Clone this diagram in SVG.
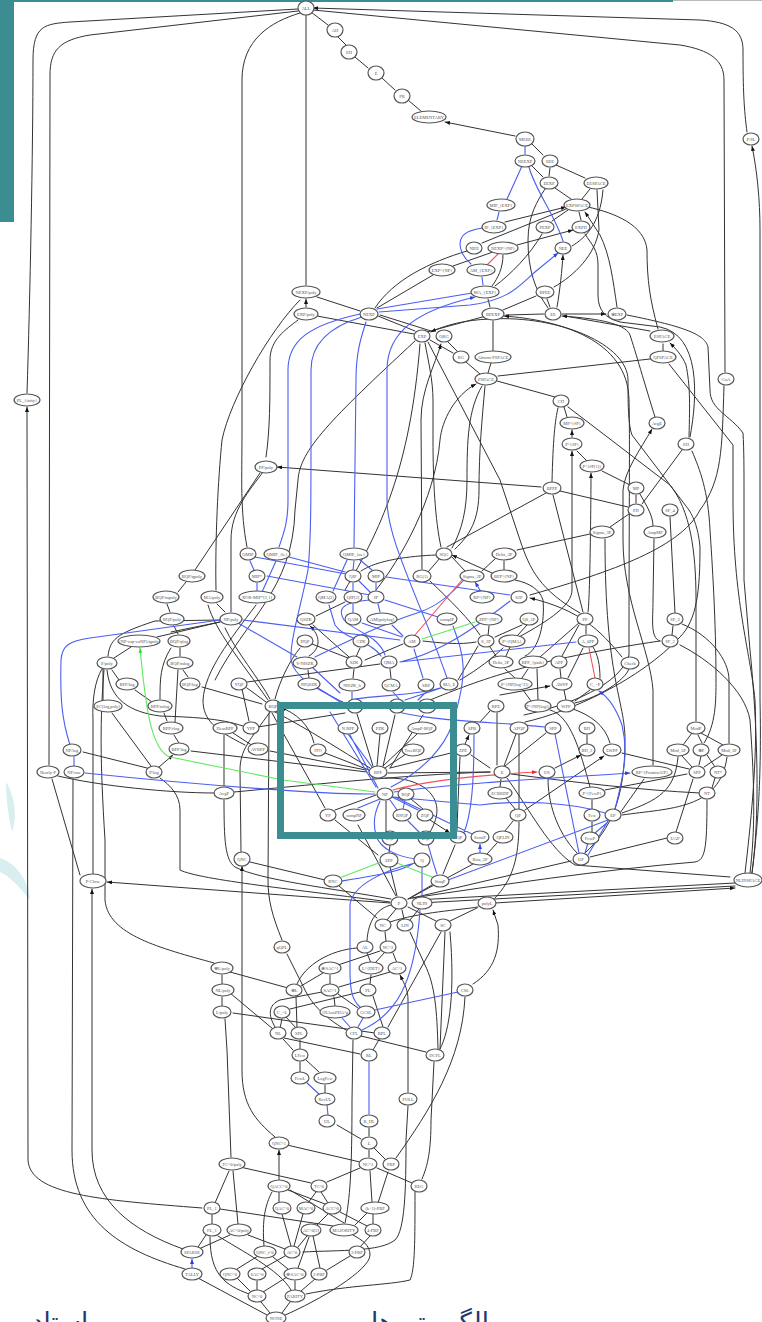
<svg xmlns="http://www.w3.org/2000/svg" width="762" height="1322" viewBox="0 0 762 1322">
<style>
.e path{fill:none;stroke-linecap:round}
.k{stroke:#333;stroke-width:1;marker-end:url(#ak)}
.b{stroke:#4a5ef2;stroke-width:1.1;marker-end:url(#ab)}
.r{stroke:#f5505a;stroke-width:1.1;marker-end:url(#ar)}
.g{stroke:#5fe85f;stroke-width:1.1;marker-end:url(#ag)}
.nd ellipse{fill:#fff;stroke:#555;stroke-width:1.2}
.nd text{font:4.5px "Liberation Serif",serif;fill:#555;text-anchor:middle;dominant-baseline:central}
.fa{font-family:"DejaVu Sans",sans-serif;font-size:26px;fill:#1d3a70;text-anchor:middle;direction:rtl}
</style>
<defs>
<marker id="ak" markerUnits="userSpaceOnUse" markerWidth="5" markerHeight="4" refX="5" refY="2" orient="auto"><path d="M0,0L5,2L0,4z" fill="#111"/></marker>
<marker id="ab" markerUnits="userSpaceOnUse" markerWidth="5" markerHeight="4" refX="5" refY="2" orient="auto"><path d="M0,0L5,2L0,4z" fill="#2a40f0"/></marker>
<marker id="ar" markerUnits="userSpaceOnUse" markerWidth="5" markerHeight="4" refX="5" refY="2" orient="auto"><path d="M0,0L5,2L0,4z" fill="#f02030"/></marker>
<marker id="ag" markerUnits="userSpaceOnUse" markerWidth="5" markerHeight="4" refX="5" refY="2" orient="auto"><path d="M0,0L5,2L0,4z" fill="#30e030"/></marker>
</defs>
<rect width="762" height="1322" fill="#fff"/>
<path d="M6,782C14,795 18,815 12,832C8,815 6,798 6,782zM0,858C14,862 28,878 30,900C18,885 8,875 0,872z" fill="#d9eeee"/>
<rect x="0" y="0" width="14" height="222" fill="#3c8d92"/>
<rect x="0" y="0" width="673" height="2" fill="#3c8d92"/>
<rect x="673" y="0" width="89" height="1" fill="#bbb"/>
<g id="connectors" class="e">
<g class="k">
<path d="M328,25L311,12M346,45L338,37M368,68L355,57M395,90L382,78M422,112L408,100M515,136L445,122"/>
<path d="M543,155L532,144M543,177L532,166M549,176L550,168M585,178L556,165M571,199L555,188M582,199L590,189M505,222L566,207"/>
<path d="M548,308C535,290 528,270 528,240C528,215 538,200 545,189M552,221L568,210M581,220L579,212M482,243L566,209M517,245L573,230"/>
<path d="M495,286C510,275 530,255 542,234M492,286C498,278 503,268 503,255M453,266L493,252M377,308L433,275M375,308C393,280 430,262 467,251M360,311L317,297M306,307L306,299"/>
<path d="M414,334L317,316M415,331L378,316M431,331L380,315M427,332L486,316M506,315L544,314M562,314L606,314"/>
<path d="M524,715C570,705 620,685 629,655C629,520 630,430 629,400C628,340 560,320 504,316"/>
<path d="M525,722C570,712 640,680 680,637C697,620 700,590 700,547C698,525 692,515 689,510L632,435C628,425 628,400 628,380C628,345 560,315 490,319C465,320 445,325 431,332"/>
<path d="M493,353L493,321M490,307L488,299M503,310L536,296M550,307L547,299M557,307C560,290 562,270 563,255"/>
<path d="M554,287C575,275 595,255 599,230L597,190M572,246C585,238 600,225 603,190M658,329C650,300 647,280 647,250C645,225 615,213 588,207M617,307C613,280 610,255 600,235L585,212"/>
<path d="M690,437C698,395 700,335 660,327L620,322C605,318 598,310 598,295L598,265C598,250 592,245 585,234M650,331L565,316M655,417C645,385 635,350 630,335C625,322 590,318 562,316"/>
<path d="M453,353L430,340M457,351L448,342M480,374L466,362M488,373L491,363M498,376L650,359M663,351L663,344M555,397L497,381M567,417L564,407M572,437L572,430"/>
<path d="M552,482C553,440 555,420 558,408M696,721L696,600C696,550 690,510 670,485L606,436L568,407M587,461L577,451M630,485L602,471M636,503L636,495M653,526C653,515 646,505 640,494M628,507L560,491M642,504L682,450M610,527L629,514M517,550L590,534M447,547L546,493M482,571L495,559M504,570L504,561M465,571L452,557M492,573L452,555"/>
<path d="M525,656C540,650 545,620 543,600C540,590 530,583 515,580M653,765L653,690C650,650 623,600 623,540L623,490C625,470 640,450 652,429"/>
<path d="M361,571C377,560 410,556 436,555M428,572L440,558M441,547C435,520 433,480 433,440L433,400C433,380 428,360 425,343M422,569L421,420C421,390 435,365 441,344"/>
<path d="M215,680C245,620 293,590 295,510L298,480C300,450 330,420 415,341M345,590C380,530 410,470 420,344M580,613C540,590 530,570 520,540L500,480L428,342M519,637C550,620 572,605 572,590L572,451"/>
<path d="M452,548C462,530 467,510 467,480C467,440 468,410 482,386M455,549C470,535 479,520 479,490C479,450 482,420 485,386M376,590C400,560 435,500 440,440C442,420 455,395 476,384"/>
<path d="M530,595C600,575 680,550 700,510C722,480 722,450 724,386M622,657C600,630 580,610 530,598"/>
<path d="M247,547C240,510 242,480 242,430L242,80C242,40 270,22 300,13M306,285L306,15M27,393C30,300 33,150 33,60C33,25 45,24 70,22L298,9M49,765L50,75C50,50 60,40 90,35L298,11M725,372L724,80C724,60 710,50 680,45L313,10M747,132C744,110 743,90 743,50C743,30 730,22 700,20L313,8"/>
<path d="M266,457C270,430 270,400 270,360C270,340 285,330 298,320M216,590C215,540 218,480 222,440C230,400 270,330 300,300M195,570L260,473M231,612L231,540C231,510 250,490 263,472M541,487L277,467"/>
<path d="M178,592L186,582M170,612L167,604M178,634L174,626M180,656L180,648M188,677L183,670M160,699C160,680 160,665 171,648M175,722L178,670M179,743L174,735M167,721L164,713M152,702L135,690M119,680L112,670M103,700L103,669M114,658L131,647M108,656C110,640 115,634 155,621L220,620M171,632L220,622M157,637L220,622M147,768L83,752M151,766L112,713M159,767L173,755"/>
<path d="M93,874L93,720C92,700 95,680 102,669M214,963C160,948 108,935 105,900L105,840C100,760 100,720 104,670M185,1269C120,1250 72,1220 72,1150L73,779M80,875L52,779M183,1249C130,1230 92,1200 92,1150L92,889"/>
<path d="M243,726C220,718 190,717 160,716C130,712 110,700 107,670M249,721L242,689M266,702L247,688M262,704L202,687M247,682L380,664M258,727L345,713M253,746L233,733M224,786L224,735M366,770L270,751M367,772L191,751M214,793C170,793 100,786 58,776M391,899C330,888 260,880 235,867C225,860 224,840 224,800M390,902C300,890 200,880 180,870L180,810C180,795 170,785 160,778M241,852L240,770C240,750 250,740 270,712M282,940C272,915 268,900 268,880L269,713M390,903L107,882"/>
<path d="M270,699C260,680 235,650 225,628M268,700C240,660 215,630 208,605M225,612L217,604M245,745C215,730 203,720 203,700C205,670 230,640 256,605M275,699C280,680 290,660 300,648M234,792C300,786 400,775 490,772M275,712C310,730 340,750 370,768M325,808L272,713M314,743C310,725 295,712 281,708"/>
<path d="M423,641C440,643 460,645 476,642M348,658L312,644M356,657L360,648M365,660L403,644M349,657L313,625M316,616L345,602M309,656C322,648 320,635 310,626"/>
<path d="M488,636L489,626M495,637L522,625M517,636L527,625M496,656L490,647M506,656L510,647M480,635C470,620 450,600 430,581M458,680L478,646M460,680C480,668 490,660 503,648M562,656L579,625M540,657L580,622M586,634L586,626M583,612L553,495M588,612C590,600 591,500 591,473"/>
<path d="M585,853C610,830 625,800 625,740C625,700 605,680 605,539M660,641C650,638 653,620 653,600L654,539M675,613L670,517M672,635L673,626M430,700C480,680 530,660 660,641M568,678L583,648M600,678C600,665 598,655 593,647M566,700L564,690M561,678L560,669M531,701L523,690M538,700L537,669M515,678L505,669M522,678L528,669M575,701L590,690M575,703C600,697 625,680 629,669M500,695L550,686"/>
<path d="M729,743L729,680C729,660 710,635 682,624M704,743C716,725 716,700 716,680C716,620 712,560 710,530C708,490 700,470 692,451M750,873C755,830 755,790 750,720C745,690 710,660 680,645M689,437C690,400 690,385 686,365C682,355 675,348 670,343"/>
<path d="M745,873C750,830 758,760 755,700C750,650 733,600 733,500L733,445L669,364M752,873C762,800 755,700 750,650L744,580L744,490C744,470 744,450 743,433C730,415 710,410 710,390L708,347C705,335 687,327 627,315M752,873C756,840 762,790 760,700L760,230C760,200 757,170 752,146"/>
<path d="M683,745L692,733M702,743L698,735M723,745L701,733M692,767L682,756M699,765L701,756M704,767L722,755M715,767L707,755M712,788L715,778M700,793C640,790 580,783 511,774M676,832L693,779M605,790L687,774M622,813C660,800 675,790 678,757M622,815C670,808 720,810 727,757M689,769L622,753M587,744L587,735M555,768L581,755"/>
<path d="M505,766L546,733M504,766L516,734M497,765L497,713M500,787L501,779M516,810L506,798M519,809L519,734M505,831L513,821M487,854L497,843M495,898C512,880 519,860 519,822M507,778C530,810 550,850 575,865L730,877M412,898C500,885 600,870 695,862C705,860 707,850 707,800M415,900L735,883M420,903L735,886M495,903L735,888"/>
<path d="M592,832L592,822M592,809L592,800M590,787C580,750 570,715 550,710M590,857L667,838M577,853C555,830 548,800 548,779M408,899L571,861M620,813L644,779M610,743C605,725 590,715 573,709M525,810L604,756"/>
<path d="M377,766L380,734M383,766L417,734M385,768L406,754M369,770L325,753M383,766L395,715M373,766L357,714M390,768L423,715M335,810L376,795M386,832L386,801M411,799L423,809M430,832C440,815 440,800 425,788C410,778 395,778 385,778M389,853L390,845M378,855L335,820M396,896L358,825M397,896L390,867M430,820L450,833"/>
<path d="M390,768L455,752M490,768L471,755M388,773L490,772M457,830C458,800 459,780 460,757M490,711L480,722M465,744L469,735"/>
<path d="M353,678L354,669M391,678L390,669M309,678L308,670M377,918L339,886M408,899L432,885M325,880L250,862M412,897L473,864M443,874L455,845M387,920L396,909M404,919L402,910M436,921L408,907M367,941C368,920 378,908 391,905M410,920L419,909M390,922C420,912 460,910 478,907M450,921L477,908M473,984C495,970 500,950 498,925L493,910"/>
<path d="M386,941L385,932M375,963L385,952M338,965L380,951M397,963L393,953M371,963L367,953M297,984C305,965 330,950 357,948M330,984L330,975M301,986L323,973M339,987L390,972M370,984L371,975M288,988L230,972M222,984L222,975M222,1006L222,997M273,1029L230,993M280,1028L282,1019M296,1028L286,1017M297,1027L296,997M275,1027C268,1015 268,1005 280,1000L322,992M290,1009L360,992M346,1030C320,1015 310,1000 305,990L287,954M358,1008L338,994M335,1006L334,997M383,1027L373,996M388,1027L441,932M440,1049L445,932M438,1049C437,1010 435,985 425,965L410,932M375,1033L233,1013M408,1092L408,1000C408,990 405,985 400,975"/>
<path d="M360,1054L284,1038M373,1050L380,1038M426,1052L361,1036M293,1050L283,1039M300,1049L300,1040M345,1223C350,1200 352,1170 352,1100L353,1040M303,1252C340,1250 380,1252 395,1240C405,1230 406,1190 406,1140L408,1106M422,1179C428,1165 431,1150 431,1120L434,1062M396,1158C430,1110 462,1060 465,997M440,1049C450,1030 455,990 450,932M231,1157L227,1050L225,1019M275,1137C255,1120 242,1105 242,1070L242,866"/>
<path d="M360,1162L287,1145M369,1136L369,1128M361,1139L337,1125M325,1093L325,1085M300,1072L300,1062M319,1072L306,1060M369,1157L369,1150M385,1159L374,1148M327,1182L360,1168M311,1183L240,1167M412,1183L377,1168M378,1203L388,1172M372,1202L370,1171M328,1203L321,1192M308,1203L316,1192M325,1204L288,1190M279,1202L279,1192M264,1246C262,1220 265,1205 272,1192M279,1180L279,1150"/>
<path d="M291,1246L282,1214M294,1246L303,1214M298,1247L307,1236M317,1225L328,1214M285,1249L248,1235M238,1224L233,1171M215,1203L229,1171M212,1224L212,1214M333,1226L220,1209M367,1226L340,1212M355,1225L367,1213M373,1224L373,1214M344,1223L290,1190M360,1247L370,1236M327,1270L350,1256M320,1268L313,1236M298,1268L309,1237M288,1269L273,1257M262,1269L285,1256M237,1269L258,1256M250,1291L237,1278M257,1290L257,1281M263,1292L287,1277M270,1313L261,1302M282,1313L290,1302M267,1315L198,1278M295,1290L295,1281M301,1291L315,1279M291,1290C280,1270 240,1250 218,1236M306,1294C350,1285 390,1285 410,1280C415,1270 415,1240 415,1192M249,1294C225,1285 210,1275 210,1237M283,1316C320,1300 370,1270 370,1255C370,1245 362,1240 353,1235M198,1247L206,1235M201,1248L230,1235M202,1208C100,1200 30,1195 28,1160L27,407"/>
</g>
<g class="b">
<path d="M525,154L525,146M507,199L522,166M563,241C555,215 535,190 529,167M497,220L499,212M471,264C460,255 458,243 462,237C465,232 475,229 484,228M483,285L482,277M377,309L472,293M379,312L470,305C510,300 520,285 535,272L558,253"/>
<path d="M262,592L276,561M279,547C285,530 288,520 288,500L288,370C288,340 310,325 360,314M350,706C320,690 295,680 291,660C290,640 300,610 308,570C311,540 311,500 311,440L311,370C311,340 335,325 362,317M354,547L356,380C356,350 362,335 366,322M447,678C420,600 387,540 387,500L387,370C387,330 420,310 475,297"/>
<path d="M70,745C62,720 60,700 61,660C62,645 70,641 90,638L220,620M74,766L74,757M297,657L238,623M400,640L243,620M402,637L362,623M403,636L392,625M438,617L385,600M391,787C425,770 445,745 452,725C460,700 464,680 463,665C462,650 458,640 453,626M380,612L378,604M353,613L353,604M370,592L359,581M376,590L376,583M353,590L353,583M353,570L354,561M372,570L360,560M333,591L347,560M346,574L255,557M345,572L289,557M254,570L250,561M257,591L257,583M370,595L267,576M510,595L386,577M480,590L475,582"/>
<path d="M400,662C430,655 460,640 510,601M400,662L576,642M385,655C378,635 355,632 344,620C335,605 350,602 369,600M381,656C370,640 345,640 335,625L329,605M423,678L414,649M315,657C350,640 380,625 420,612C440,605 455,590 463,581M313,668L340,693M318,688L345,705"/>
<path d="M375,794C330,795 200,785 85,773M372,767L348,734M378,788L350,735M376,787L330,712M358,808L380,799M397,810L390,800M418,810L392,797M416,859C400,857 380,850 376,835C372,820 376,810 380,801M403,809L405,800M472,834L395,797M605,813C570,802 520,800 480,805L393,797M408,821L420,833M463,835C472,815 474,780 474,735M398,712C440,722 500,722 545,727M394,792C440,785 520,780 630,773"/>
<path d="M579,853L555,734M588,855L608,821M585,853L588,843M595,833L608,822M448,880L608,820M615,809C625,770 628,750 622,725C615,705 605,695 599,691"/>
<path d="M352,702L352,692M400,700L393,692M418,700L426,692M405,700L441,688M355,699C380,695 420,695 440,688M342,881C380,875 400,872 416,862M360,1007C352,1000 350,990 350,970L350,905C352,885 385,870 415,863M422,896L422,867M437,874C432,860 430,850 428,845M480,853L480,844"/>
<path d="M350,1027L342,1018M358,1027L363,1018M375,1010L458,992M362,1030C395,1015 415,985 420,910M369,1114L369,1062M328,1115L327,1105M320,1095L306,1082M192,1268L192,1259"/>
</g>
<g class="r"><path d="M487,265L498,254M415,635L462,580M595,678L589,648M393,790C430,780 480,775 537,772"/></g>
<g class="g"><path d="M422,639L475,622M342,877L381,862M432,877L397,863M375,792L283,780L170,757C150,750 145,700 140,648"/></g>
</g>
<g class="nd">
<g id="n1"><ellipse cx="306" cy="8" rx="8" ry="7"/><text x="306" y="8">ALL</text></g>
<g id="n2"><ellipse cx="335" cy="30" rx="8" ry="7"/><text x="335" y="30">AH</text></g>
<g id="n3"><ellipse cx="349" cy="52" rx="8" ry="7"/><text x="349" y="52">EH</text></g>
<g id="n4"><ellipse cx="376" cy="73" rx="8" ry="7"/><text x="376" y="73">E</text></g>
<g id="n5"><ellipse cx="402" cy="96" rx="8" ry="7"/><text x="402" y="96">PR</text></g>
<g id="n6"><ellipse cx="429" cy="117" rx="17" ry="6"/><text x="429" y="117">ELEMENTARY</text></g>
<g id="n7"><ellipse cx="525" cy="139" rx="9" ry="7"/><text x="525" y="139">MEEE</text></g>
<g id="n8"><ellipse cx="525" cy="161" rx="10" ry="6"/><text x="525" y="161">NEEXP</text></g>
<g id="n9"><ellipse cx="550" cy="161" rx="8" ry="6"/><text x="550" y="161">EEE</text></g>
<g id="n10"><ellipse cx="549" cy="183" rx="9" ry="6"/><text x="549" y="183">EEXP</text></g>
<g id="n11"><ellipse cx="596" cy="183" rx="12" ry="6"/><text x="596" y="183">EESPACE</text></g>
<g id="n12"><ellipse cx="577" cy="205" rx="13" ry="6"/><text x="577" y="205">EXPSPACE</text></g>
<g id="n13"><ellipse cx="501" cy="205" rx="14" ry="6"/><text x="501" y="205">MIP_{EXP}</text></g>
<g id="n14"><ellipse cx="494" cy="227" rx="12" ry="6"/><text x="494" y="227">IP_{EXP}</text></g>
<g id="n15"><ellipse cx="545" cy="227" rx="9" ry="6"/><text x="545" y="227">PEXP</text></g>
<g id="n16"><ellipse cx="581" cy="227" rx="9" ry="6"/><text x="581" y="227">EXPH</text></g>
<g id="n17"><ellipse cx="474" cy="248" rx="8" ry="6"/><text x="474" y="248">NEH</text></g>
<g id="n18"><ellipse cx="503" cy="248" rx="15" ry="6"/><text x="503" y="248">NEXP^{NP}</text></g>
<g id="n19"><ellipse cx="563" cy="248" rx="8" ry="6"/><text x="563" y="248">NEE</text></g>
<g id="n20"><ellipse cx="442" cy="270" rx="13" ry="6"/><text x="442" y="270">EXP^{NP}</text></g>
<g id="n21"><ellipse cx="481" cy="270" rx="14" ry="6"/><text x="481" y="270">AM_{EXP}</text></g>
<g id="n22"><ellipse cx="306" cy="292" rx="14" ry="6"/><text x="306" y="292">NEXP/poly</text></g>
<g id="n23"><ellipse cx="485" cy="292" rx="14" ry="6"/><text x="485" y="292">MA_{EXP}</text></g>
<g id="n24"><ellipse cx="545" cy="292" rx="9" ry="6"/><text x="545" y="292">BPEE</text></g>
<g id="n25"><ellipse cx="306" cy="314" rx="12" ry="6"/><text x="306" y="314">EXP/poly</text></g>
<g id="n26"><ellipse cx="369" cy="314" rx="9" ry="6"/><text x="369" y="314">NEXP</text></g>
<g id="n27"><ellipse cx="493" cy="314" rx="11" ry="6"/><text x="493" y="314">BPEXP</text></g>
<g id="n28"><ellipse cx="553" cy="314" rx="8" ry="6"/><text x="553" y="314">EE</text></g>
<g id="n29"><ellipse cx="617" cy="314" rx="9" ry="6"/><text x="617" y="314">⊕EXP</text></g>
<g id="n30"><ellipse cx="422" cy="336" rx="8" ry="6"/><text x="422" y="336">EXP</text></g>
<g id="n31"><ellipse cx="444" cy="336" rx="8" ry="6"/><text x="444" y="336">QRG</text></g>
<g id="n32"><ellipse cx="662" cy="336" rx="12" ry="6"/><text x="662" y="336">ESPACE</text></g>
<g id="n33"><ellipse cx="461" cy="357" rx="8" ry="6"/><text x="461" y="357">RG</text></g>
<g id="n34"><ellipse cx="493" cy="357" rx="18" ry="6"/><text x="493" y="357">Almost-PSPACE</text></g>
<g id="n35"><ellipse cx="663" cy="357" rx="13" ry="6"/><text x="663" y="357">QPSPACE</text></g>
<g id="n36"><ellipse cx="486" cy="379" rx="11" ry="6"/><text x="486" y="379">PSPACE</text></g>
<g id="n37"><ellipse cx="561" cy="401" rx="8" ry="6"/><text x="561" y="401">CH</text></g>
<g id="n38"><ellipse cx="572" cy="423" rx="12" ry="6"/><text x="572" y="423">MP^{#P}</text></g>
<g id="n39"><ellipse cx="657" cy="423" rx="8" ry="6"/><text x="657" y="423">AvgE</text></g>
<g id="n40"><ellipse cx="726" cy="379" rx="8" ry="6"/><text x="726" y="379">CoA</text></g>
<g id="n41"><ellipse cx="751" cy="139" rx="8" ry="6"/><text x="751" y="139">P/SL</text></g>
<g id="n42"><ellipse cx="27" cy="400" rx="13" ry="6"/><text x="27" y="400">PL_{infty}</text></g>
<g id="n43"><ellipse cx="572" cy="444" rx="10" ry="6"/><text x="572" y="444">P^{#P}</text></g>
<g id="n44"><ellipse cx="686" cy="444" rx="8" ry="6"/><text x="686" y="444">EH</text></g>
<g id="n45"><ellipse cx="592" cy="466" rx="12" ry="6"/><text x="592" y="466">P^{#P[1]}</text></g>
<g id="n46"><ellipse cx="636" cy="488" rx="8" ry="6"/><text x="636" y="488">MP</text></g>
<g id="n47"><ellipse cx="552" cy="488" rx="9" ry="6"/><text x="552" y="488">BPPP</text></g>
<g id="n48"><ellipse cx="636" cy="510" rx="8" ry="6"/><text x="636" y="510">PH</text></g>
<g id="n49"><ellipse cx="670" cy="510" rx="8" ry="6"/><text x="670" y="510">SF_4</text></g>
<g id="n50"><ellipse cx="266" cy="467" rx="11" ry="6"/><text x="266" y="467">PP/poly</text></g>
<g id="n51"><ellipse cx="602" cy="532" rx="12" ry="6"/><text x="602" y="532">Sigma_3P</text></g>
<g id="n52"><ellipse cx="655" cy="532" rx="11" ry="6"/><text x="655" y="532">AmpMP</text></g>
<g id="n53"><ellipse cx="444" cy="554" rx="8" ry="6"/><text x="444" y="554">SQG</text></g>
<g id="n54"><ellipse cx="504" cy="554" rx="12" ry="6"/><text x="504" y="554">Delta_3P</text></g>
<g id="n55"><ellipse cx="248" cy="554" rx="8" ry="6"/><text x="248" y="554">QMIP</text></g>
<g id="n56"><ellipse cx="277" cy="554" rx="13" ry="6"/><text x="277" y="554">QMIP_{le}</text></g>
<g id="n57"><ellipse cx="354" cy="554" rx="14" ry="6"/><text x="354" y="554">QMIP_{ne}</text></g>
<g id="n58"><ellipse cx="192" cy="576" rx="13" ry="6"/><text x="192" y="576">BQP/qpoly</text></g>
<g id="n59"><ellipse cx="257" cy="576" rx="8" ry="6"/><text x="257" y="576">MIP*</text></g>
<g id="n60"><ellipse cx="353" cy="576" rx="8" ry="6"/><text x="353" y="576">QIP</text></g>
<g id="n61"><ellipse cx="376" cy="576" rx="8" ry="6"/><text x="376" y="576">MIP</text></g>
<g id="n62"><ellipse cx="422" cy="576" rx="9" ry="6"/><text x="422" y="576">RG(1)</text></g>
<g id="n63"><ellipse cx="472" cy="576" rx="12" ry="6"/><text x="472" y="576">Sigma_2P</text></g>
<g id="n64"><ellipse cx="504" cy="576" rx="13" ry="6"/><text x="504" y="576">BPP^{NP}</text></g>
<g id="n65"><ellipse cx="166" cy="597" rx="13" ry="6"/><text x="166" y="597">BQP/mpoly</text></g>
<g id="n66"><ellipse cx="212" cy="597" rx="11" ry="6"/><text x="212" y="597">MA/poly</text></g>
<g id="n67"><ellipse cx="257" cy="597" rx="18" ry="6"/><text x="257" y="597">XOR-MIP*[2,1]</text></g>
<g id="n68"><ellipse cx="326" cy="597" rx="10" ry="6"/><text x="326" y="597">QMA(2)</text></g>
<g id="n69"><ellipse cx="353" cy="597" rx="9" ry="6"/><text x="353" y="597">QIP[2]</text></g>
<g id="n70"><ellipse cx="376" cy="597" rx="8" ry="6"/><text x="376" y="597">IP</text></g>
<g id="n71"><ellipse cx="482" cy="597" rx="12" ry="6"/><text x="482" y="597">RP^{NP}</text></g>
<g id="n72"><ellipse cx="519" cy="597" rx="8" ry="6"/><text x="519" y="597">S2P</text></g>
<g id="n73"><ellipse cx="172" cy="619" rx="12" ry="6"/><text x="172" y="619">BQP/poly</text></g>
<g id="n74"><ellipse cx="231" cy="619" rx="11" ry="6"/><text x="231" y="619">NP/poly</text></g>
<g id="n75"><ellipse cx="306" cy="619" rx="9" ry="6"/><text x="306" y="619">QSZK</text></g>
<g id="n76"><ellipse cx="353" cy="619" rx="8" ry="6"/><text x="353" y="619">QAM</text></g>
<g id="n77"><ellipse cx="382" cy="619" rx="15" ry="6"/><text x="382" y="619">AM[polylog]</text></g>
<g id="n78"><ellipse cx="447" cy="619" rx="10" ry="6"/><text x="447" y="619">compIP</text></g>
<g id="n79"><ellipse cx="489" cy="619" rx="13" ry="6"/><text x="489" y="619">ZPP^{NP}</text></g>
<g id="n80"><ellipse cx="529" cy="619" rx="9" ry="6"/><text x="529" y="619">QS_2P</text></g>
<g id="n81"><ellipse cx="585" cy="619" rx="8" ry="6"/><text x="585" y="619">PP</text></g>
<g id="n82"><ellipse cx="675" cy="619" rx="8" ry="6"/><text x="675" y="619">SF_3</text></g>
<g id="n83"><ellipse cx="139" cy="641" rx="21" ry="6"/><text x="139" y="641">(NP-cap-coNP)/qpoly</text></g>
<g id="n84"><ellipse cx="179" cy="641" rx="11" ry="6"/><text x="179" y="641">BQP/qlog</text></g>
<g id="n85"><ellipse cx="305" cy="641" rx="8" ry="6"/><text x="305" y="641">DQP</text></g>
<g id="n86"><ellipse cx="361" cy="641" rx="8" ry="6"/><text x="361" y="641">CZK</text></g>
<g id="n87"><ellipse cx="412" cy="641" rx="8" ry="6"/><text x="412" y="641">AM</text></g>
<g id="n88"><ellipse cx="486" cy="641" rx="8" ry="6"/><text x="486" y="641">S_2P</text></g>
<g id="n89"><ellipse cx="512" cy="641" rx="13" ry="6"/><text x="512" y="641">P^{QMA}</text></g>
<g id="n90"><ellipse cx="588" cy="641" rx="10" ry="6"/><text x="588" y="641">A_0PP</text></g>
<g id="n91"><ellipse cx="670" cy="641" rx="8" ry="6"/><text x="670" y="641">SF_2</text></g>
<g id="n92"><ellipse cx="107" cy="663" rx="10" ry="6"/><text x="107" y="663">P/poly</text></g>
<g id="n93"><ellipse cx="180" cy="663" rx="13" ry="6"/><text x="180" y="663">BQP/mlog</text></g>
<g id="n94"><ellipse cx="305" cy="663" rx="12" ry="6"/><text x="305" y="663">V-NISZK</text></g>
<g id="n95"><ellipse cx="354" cy="662" rx="8" ry="6"/><text x="354" y="662">SZK</text></g>
<g id="n96"><ellipse cx="389" cy="662" rx="8" ry="6"/><text x="389" y="662">QMA</text></g>
<g id="n97"><ellipse cx="501" cy="662" rx="12" ry="6"/><text x="501" y="662">Delta_2P</text></g>
<g id="n98"><ellipse cx="533" cy="662" rx="14" ry="6"/><text x="533" y="662">BPP_{path}</text></g>
<g id="n99"><ellipse cx="559" cy="662" rx="8" ry="6"/><text x="559" y="662">APP</text></g>
<g id="n100"><ellipse cx="630" cy="663" rx="9" ry="6"/><text x="630" y="663">Check</text></g>
<g id="n101"><ellipse cx="127" cy="684" rx="11" ry="6"/><text x="127" y="684">BPP/log</text></g>
<g id="n102"><ellipse cx="190" cy="684" rx="10" ry="6"/><text x="190" y="684">BQP/log</text></g>
<g id="n103"><ellipse cx="239" cy="684" rx="8" ry="6"/><text x="239" y="684">YQP</text></g>
<g id="n104"><ellipse cx="309" cy="684" rx="11" ry="6"/><text x="309" y="684">NIQSZK</text></g>
<g id="n105"><ellipse cx="352" cy="685" rx="13" ry="6"/><text x="352" y="685">NISZK_h</text></g>
<g id="n106"><ellipse cx="391" cy="685" rx="9" ry="6"/><text x="391" y="685">QCMA</text></g>
<g id="n107"><ellipse cx="426" cy="685" rx="8" ry="6"/><text x="426" y="685">SBP</text></g>
<g id="n108"><ellipse cx="449" cy="684" rx="9" ry="6"/><text x="449" y="684">MA_E</text></g>
<g id="n109"><ellipse cx="515" cy="684" rx="17" ry="6"/><text x="515" y="684">P^{NP[log^2]}</text></g>
<g id="n110"><ellipse cx="562" cy="684" rx="10" ry="6"/><text x="562" y="684">AWPP</text></g>
<g id="n111"><ellipse cx="595" cy="684" rx="8" ry="6"/><text x="595" y="684">C_=P</text></g>
<g id="n112"><ellipse cx="108" cy="706" rx="14" ry="6"/><text x="108" y="706">EC[log,poly]</text></g>
<g id="n113"><ellipse cx="160" cy="706" rx="12" ry="6"/><text x="160" y="706">BPP/mlog</text></g>
<g id="n114"><ellipse cx="273" cy="706" rx="8" ry="6"/><text x="273" y="706">BQP</text></g>
<g id="n115"><ellipse cx="355" cy="706" rx="8" ry="7"/><text x="355" y="706">MA</text></g>
<g id="n116"><ellipse cx="397" cy="706" rx="8" ry="7"/><text x="397" y="706">QPH</text></g>
<g id="n117"><ellipse cx="427" cy="706" rx="9" ry="7"/><text x="427" y="706">SBQP</text></g>
<g id="n118"><ellipse cx="496" cy="706" rx="8" ry="6"/><text x="496" y="706">RPE</text></g>
<g id="n119"><ellipse cx="538" cy="706" rx="13" ry="6"/><text x="538" y="706">P^{NP[log]}</text></g>
<g id="n120"><ellipse cx="566" cy="706" rx="9" ry="6"/><text x="566" y="706">WPP</text></g>
<g id="n121"><ellipse cx="171" cy="728" rx="12" ry="6"/><text x="171" y="728">BPP/rlog</text></g>
<g id="n122"><ellipse cx="225" cy="728" rx="12" ry="6"/><text x="225" y="728">HeurBPP</text></g>
<g id="n123"><ellipse cx="251" cy="728" rx="8" ry="6"/><text x="251" y="728">YPP</text></g>
<g id="n124"><ellipse cx="348" cy="728" rx="10" ry="6"/><text x="348" y="728">N.BPP</text></g>
<g id="n125"><ellipse cx="380" cy="728" rx="8" ry="6"/><text x="380" y="728">PZK</text></g>
<g id="n126"><ellipse cx="422" cy="728" rx="14" ry="6"/><text x="422" y="728">AmpP-BQP</text></g>
<g id="n127"><ellipse cx="472" cy="728" rx="8" ry="6"/><text x="472" y="728">SPB</text></g>
<g id="n128"><ellipse cx="519" cy="728" rx="9" ry="6"/><text x="519" y="728">APQP</text></g>
<g id="n129"><ellipse cx="553" cy="728" rx="8" ry="6"/><text x="553" y="728">SPP</text></g>
<g id="n130"><ellipse cx="587" cy="728" rx="8" ry="6"/><text x="587" y="728">BH</text></g>
<g id="n131"><ellipse cx="696" cy="728" rx="9" ry="6"/><text x="696" y="728">ModP</text></g>
<g id="n132"><ellipse cx="72" cy="750" rx="9" ry="6"/><text x="72" y="750">NP/log</text></g>
<g id="n133"><ellipse cx="179" cy="749" rx="10" ry="6"/><text x="179" y="749">BPP/log</text></g>
<g id="n134"><ellipse cx="258" cy="749" rx="10" ry="6"/><text x="258" y="749">AVBPP</text></g>
<g id="n135"><ellipse cx="318" cy="750" rx="8" ry="6"/><text x="318" y="750">ITO</text></g>
<g id="n136"><ellipse cx="413" cy="750" rx="11" ry="6"/><text x="413" y="750">TreeBQP</text></g>
<g id="n137"><ellipse cx="463" cy="750" rx="8" ry="6"/><text x="463" y="750">ZPE</text></g>
<g id="n138"><ellipse cx="587" cy="750" rx="8" ry="6"/><text x="587" y="750">BH_2</text></g>
<g id="n139"><ellipse cx="612" cy="750" rx="9" ry="6"/><text x="612" y="750">LWPP</text></g>
<g id="n140"><ellipse cx="678" cy="750" rx="11" ry="6"/><text x="678" y="750">Mod_5P</text></g>
<g id="n141"><ellipse cx="701" cy="750" rx="8" ry="6"/><text x="701" y="750">⊕P</text></g>
<g id="n142"><ellipse cx="729" cy="750" rx="11" ry="6"/><text x="729" y="750">Mod_3P</text></g>
<g id="n143"><ellipse cx="48" cy="772" rx="11" ry="6"/><text x="48" y="772">Nearly-P</text></g>
<g id="n144"><ellipse cx="74" cy="772" rx="10" ry="6"/><text x="74" y="772">NP/one</text></g>
<g id="n145"><ellipse cx="154" cy="772" rx="8" ry="6"/><text x="154" y="772">P/log</text></g>
<g id="n146"><ellipse cx="378" cy="772" rx="9" ry="6"/><text x="378" y="772">BPP</text></g>
<g id="n147"><ellipse cx="502" cy="772" rx="8" ry="6"/><text x="502" y="772">E</text></g>
<g id="n148"><ellipse cx="547" cy="772" rx="8" ry="6"/><text x="547" y="772">US</text></g>
<g id="n149"><ellipse cx="652" cy="772" rx="20" ry="6"/><text x="652" y="772">RP^{PromiseUP}</text></g>
<g id="n150"><ellipse cx="697" cy="772" rx="8" ry="6"/><text x="697" y="772">SPP</text></g>
<g id="n151"><ellipse cx="718" cy="772" rx="8" ry="6"/><text x="718" y="772">NT*</text></g>
<g id="n152"><ellipse cx="224" cy="793" rx="10" ry="6"/><text x="224" y="793">AvgP</text></g>
<g id="n153"><ellipse cx="385" cy="794" rx="8" ry="6"/><text x="385" y="794">NP</text></g>
<g id="n154"><ellipse cx="406" cy="794" rx="8" ry="6"/><text x="406" y="794">RQP</text></g>
<g id="n155"><ellipse cx="500" cy="793" rx="12" ry="6"/><text x="500" y="793">ECBRDP</text></g>
<g id="n156"><ellipse cx="592" cy="793" rx="13" ry="6"/><text x="592" y="793">P^{FewP}</text></g>
<g id="n157"><ellipse cx="707" cy="793" rx="8" ry="6"/><text x="707" y="793">NT</text></g>
<g id="n158"><ellipse cx="328" cy="815" rx="8" ry="6"/><text x="328" y="815">YP</text></g>
<g id="n159"><ellipse cx="354" cy="815" rx="11" ry="6"/><text x="354" y="815">compNP</text></g>
<g id="n160"><ellipse cx="402" cy="815" rx="9" ry="6"/><text x="402" y="815">RNQP</text></g>
<g id="n161"><ellipse cx="425" cy="815" rx="8" ry="6"/><text x="425" y="815">ZQP</text></g>
<g id="n162"><ellipse cx="518" cy="815" rx="8" ry="6"/><text x="518" y="815">QP</text></g>
<g id="n163"><ellipse cx="592" cy="815" rx="8" ry="6"/><text x="592" y="815">Few</text></g>
<g id="n164"><ellipse cx="613" cy="815" rx="8" ry="6"/><text x="613" y="815">EP</text></g>
<g id="n165"><ellipse cx="390" cy="838" rx="8" ry="7"/><text x="390" y="838">EQP</text></g>
<g id="n166"><ellipse cx="426" cy="838" rx="8" ry="7"/><text x="426" y="838">BQP</text></g>
<g id="n167"><ellipse cx="458" cy="837" rx="8" ry="6"/><text x="458" y="837">CQP</text></g>
<g id="n168"><ellipse cx="480" cy="837" rx="9" ry="6"/><text x="480" y="837">SemiP</text></g>
<g id="n169"><ellipse cx="503" cy="837" rx="10" ry="6"/><text x="503" y="837">QPLIN</text></g>
<g id="n170"><ellipse cx="590" cy="838" rx="9" ry="6"/><text x="590" y="838">FewP</text></g>
<g id="n171"><ellipse cx="675" cy="838" rx="8" ry="6"/><text x="675" y="838">UAP</text></g>
<g id="n172"><ellipse cx="242" cy="859" rx="8" ry="7"/><text x="242" y="859">QNC</text></g>
<g id="n173"><ellipse cx="389" cy="860" rx="9" ry="7"/><text x="389" y="860">ZPP</text></g>
<g id="n174"><ellipse cx="422" cy="860" rx="8" ry="7"/><text x="422" y="860">Q</text></g>
<g id="n175"><ellipse cx="480" cy="859" rx="12" ry="6"/><text x="480" y="859">Beta_2P</text></g>
<g id="n176"><ellipse cx="581" cy="859" rx="8" ry="6"/><text x="581" y="859">UP</text></g>
<g id="n177"><ellipse cx="93" cy="881" rx="13" ry="7"/><text x="93" y="881">P-Close</text></g>
<g id="n178"><ellipse cx="333" cy="881" rx="9" ry="6"/><text x="333" y="881">RNC</text></g>
<g id="n179"><ellipse cx="440" cy="881" rx="9" ry="6"/><text x="440" y="881">StoqP</text></g>
<g id="n180"><ellipse cx="748" cy="880" rx="14" ry="7"/><text x="748" y="880">NLINSPACE</text></g>
<g id="n181"><ellipse cx="399" cy="903" rx="8" ry="6"/><text x="399" y="903">P</text></g>
<g id="n182"><ellipse cx="422" cy="903" rx="10" ry="6"/><text x="422" y="903">NLIN</text></g>
<g id="n183"><ellipse cx="487" cy="903" rx="9" ry="6"/><text x="487" y="903">polyL</text></g>
<g id="n184"><ellipse cx="383" cy="925" rx="8" ry="6"/><text x="383" y="925">NC</text></g>
<g id="n185"><ellipse cx="405" cy="925" rx="8" ry="6"/><text x="405" y="925">LIN</text></g>
<g id="n186"><ellipse cx="443" cy="925" rx="8" ry="6"/><text x="443" y="925">SC</text></g>
<g id="n187"><ellipse cx="282" cy="947" rx="8" ry="6"/><text x="282" y="947">qQPL</text></g>
<g id="n188"><ellipse cx="365" cy="947" rx="8" ry="6"/><text x="365" y="947">AL</text></g>
<g id="n189"><ellipse cx="388" cy="947" rx="8" ry="6"/><text x="388" y="947">NC^2</text></g>
<g id="n190"><ellipse cx="222" cy="968" rx="11" ry="6"/><text x="222" y="968">⊕L/poly</text></g>
<g id="n191"><ellipse cx="330" cy="968" rx="11" ry="6"/><text x="330" y="968">⊕SAC^1</text></g>
<g id="n192"><ellipse cx="371" cy="968" rx="12" ry="6"/><text x="371" y="968">L^{DET}</text></g>
<g id="n193"><ellipse cx="397" cy="968" rx="9" ry="6"/><text x="397" y="968">AC^1</text></g>
<g id="n194"><ellipse cx="223" cy="990" rx="11" ry="6"/><text x="223" y="990">NL/poly</text></g>
<g id="n195"><ellipse cx="294" cy="990" rx="8" ry="6"/><text x="294" y="990">⊕L</text></g>
<g id="n196"><ellipse cx="330" cy="990" rx="9" ry="6"/><text x="330" y="990">SAC^1</text></g>
<g id="n197"><ellipse cx="368" cy="990" rx="8" ry="6"/><text x="368" y="990">PL</text></g>
<g id="n198"><ellipse cx="465" cy="990" rx="8" ry="6"/><text x="465" y="990">CSL</text></g>
<g id="n199"><ellipse cx="222" cy="1012" rx="9" ry="6"/><text x="222" y="1012">L/poly</text></g>
<g id="n200"><ellipse cx="282" cy="1012" rx="8" ry="6"/><text x="282" y="1012">C_=L</text></g>
<g id="n201"><ellipse cx="335" cy="1012" rx="15" ry="6"/><text x="335" y="1012">1NAuxPDA^p</text></g>
<g id="n202"><ellipse cx="366" cy="1012" rx="9" ry="6"/><text x="366" y="1012">GCSL</text></g>
<g id="n203"><ellipse cx="278" cy="1033" rx="8" ry="6"/><text x="278" y="1033">NL</text></g>
<g id="n204"><ellipse cx="299" cy="1033" rx="8" ry="6"/><text x="299" y="1033">SPL</text></g>
<g id="n205"><ellipse cx="354" cy="1033" rx="8" ry="6"/><text x="354" y="1033">CFL</text></g>
<g id="n206"><ellipse cx="382" cy="1033" rx="8" ry="6"/><text x="382" y="1033">BPL</text></g>
<g id="n207"><ellipse cx="300" cy="1055" rx="8" ry="6"/><text x="300" y="1055">LFew</text></g>
<g id="n208"><ellipse cx="369" cy="1055" rx="8" ry="6"/><text x="369" y="1055">RL</text></g>
<g id="n209"><ellipse cx="435" cy="1055" rx="9" ry="6"/><text x="435" y="1055">DCFL</text></g>
<g id="n210"><ellipse cx="300" cy="1078" rx="9" ry="6"/><text x="300" y="1078">FewL</text></g>
<g id="n211"><ellipse cx="325" cy="1078" rx="11" ry="6"/><text x="325" y="1078">LogFew</text></g>
<g id="n212"><ellipse cx="325" cy="1099" rx="10" ry="6"/><text x="325" y="1099">RevUL</text></g>
<g id="n213"><ellipse cx="408" cy="1099" rx="9" ry="6"/><text x="408" y="1099">FOLL</text></g>
<g id="n214"><ellipse cx="327" cy="1121" rx="8" ry="6"/><text x="327" y="1121">UL</text></g>
<g id="n215"><ellipse cx="369" cy="1121" rx="9" ry="6"/><text x="369" y="1121">R_HL</text></g>
<g id="n216"><ellipse cx="369" cy="1143" rx="8" ry="6"/><text x="369" y="1143">L</text></g>
<g id="n217"><ellipse cx="279" cy="1143" rx="10" ry="6"/><text x="279" y="1143">QNC^1</text></g>
<g id="n218"><ellipse cx="232" cy="1164" rx="13" ry="6"/><text x="232" y="1164">TC^0/poly</text></g>
<g id="n219"><ellipse cx="368" cy="1164" rx="9" ry="6"/><text x="368" y="1164">NC^1</text></g>
<g id="n220"><ellipse cx="391" cy="1164" rx="8" ry="6"/><text x="391" y="1164">PBP</text></g>
<g id="n221"><ellipse cx="279" cy="1186" rx="11" ry="6"/><text x="279" y="1186">QACC^0</text></g>
<g id="n222"><ellipse cx="319" cy="1186" rx="8" ry="6"/><text x="319" y="1186">TC^0</text></g>
<g id="n223"><ellipse cx="419" cy="1186" rx="8" ry="6"/><text x="419" y="1186">REG</text></g>
<g id="n224"><ellipse cx="212" cy="1208" rx="8" ry="6"/><text x="212" y="1208">PL_1</text></g>
<g id="n225"><ellipse cx="282" cy="1208" rx="9" ry="6"/><text x="282" y="1208">QAC^0</text></g>
<g id="n226"><ellipse cx="306" cy="1208" rx="9" ry="6"/><text x="306" y="1208">MAC^0</text></g>
<g id="n227"><ellipse cx="332" cy="1208" rx="9" ry="6"/><text x="332" y="1208">ACC^0</text></g>
<g id="n228"><ellipse cx="375" cy="1208" rx="14" ry="6"/><text x="375" y="1208">(k+1)-PBP</text></g>
<g id="n229"><ellipse cx="212" cy="1230" rx="9" ry="6"/><text x="212" y="1230">FL_1</text></g>
<g id="n230"><ellipse cx="239" cy="1230" rx="12" ry="6"/><text x="239" y="1230">AC^0/poly</text></g>
<g id="n231"><ellipse cx="311" cy="1230" rx="10" ry="6"/><text x="311" y="1230">AC^0[2]</text></g>
<g id="n232"><ellipse cx="344" cy="1230" rx="14" ry="6"/><text x="344" y="1230">MAJORITY</text></g>
<g id="n233"><ellipse cx="373" cy="1230" rx="8" ry="6"/><text x="373" y="1230">4-PBP</text></g>
<g id="n234"><ellipse cx="192" cy="1252" rx="11" ry="6"/><text x="192" y="1252">SPARSE</text></g>
<g id="n235"><ellipse cx="265" cy="1252" rx="11" ry="6"/><text x="265" y="1252">QNC_f^0</text></g>
<g id="n236"><ellipse cx="292" cy="1252" rx="8" ry="6"/><text x="292" y="1252">AC^0</text></g>
<g id="n237"><ellipse cx="357" cy="1252" rx="8" ry="6"/><text x="357" y="1252">3-PBP</text></g>
<g id="n238"><ellipse cx="192" cy="1274" rx="10" ry="6"/><text x="192" y="1274">TALLY</text></g>
<g id="n239"><ellipse cx="230" cy="1274" rx="10" ry="6"/><text x="230" y="1274">QNC^0</text></g>
<g id="n240"><ellipse cx="257" cy="1274" rx="9" ry="6"/><text x="257" y="1274">SAC^0</text></g>
<g id="n241"><ellipse cx="295" cy="1274" rx="11" ry="6"/><text x="295" y="1274">⊕SAC^0</text></g>
<g id="n242"><ellipse cx="319" cy="1274" rx="8" ry="6"/><text x="319" y="1274">2-PBP</text></g>
<g id="n243"><ellipse cx="257" cy="1296" rx="9" ry="6"/><text x="257" y="1296">NC^0</text></g>
<g id="n244"><ellipse cx="295" cy="1296" rx="10" ry="6"/><text x="295" y="1296">PARITY</text></g>
<g id="n245"><ellipse cx="276" cy="1318" rx="10" ry="6"/><text x="276" y="1318">NONE</text></g>
</g>
<rect x="280.5" y="705.5" width="173" height="130" fill="none" stroke="#3c8d92" stroke-width="7"/>
<text class="fa" x="430" y="1331">الگوریتم ها</text>
<text class="fa" x="60" y="1331">استاد</text>
</svg>
